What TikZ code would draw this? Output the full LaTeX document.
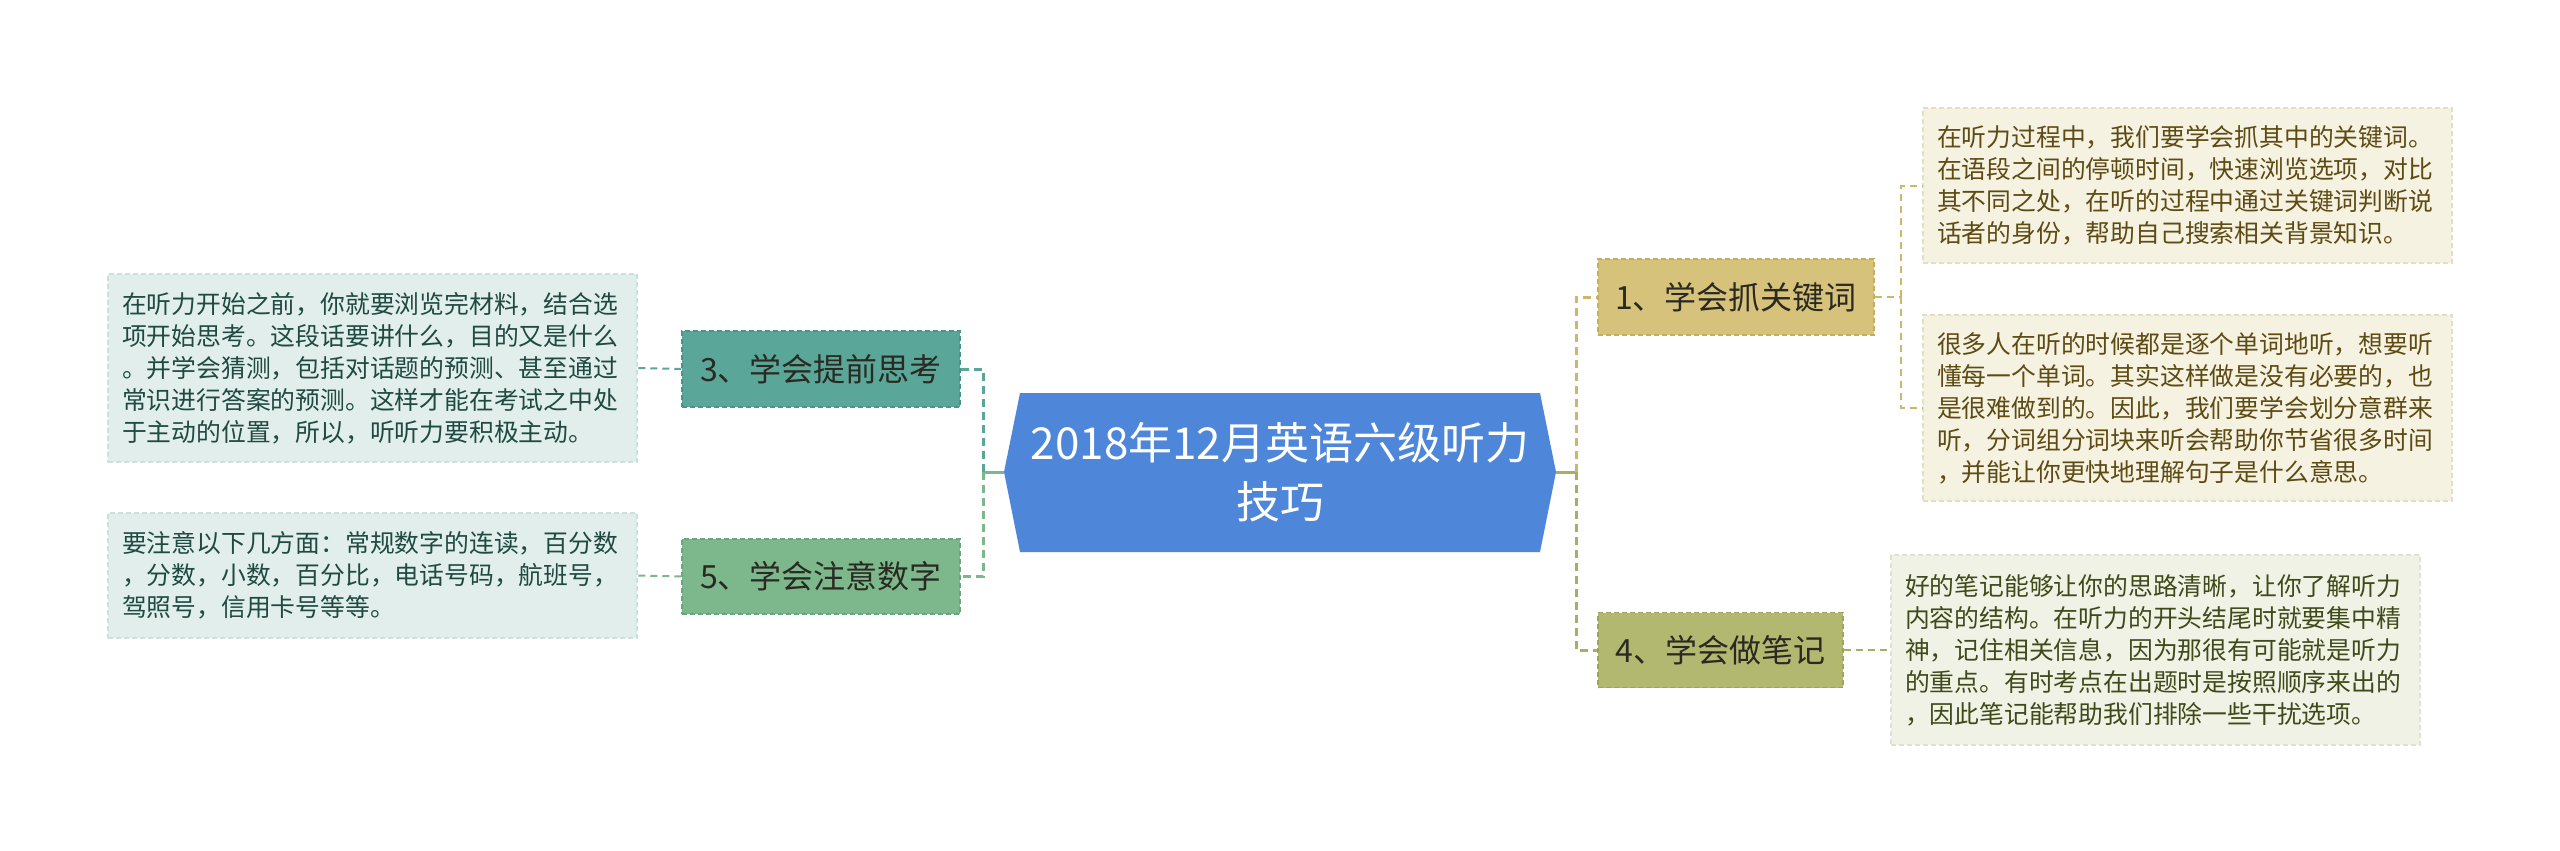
\documentclass[tikz,border=0pt]{standalone}
\usepackage{fontspec}
\setmainfont{Noto Sans CJK SC}
\definecolor{centerblue}{HTML}{4E86DA}
\definecolor{bonefill}{HTML}{D6C27A}
\definecolor{boneborder}{HTML}{C4AD5C}
\definecolor{bfourfill}{HTML}{B3B870}
\definecolor{bfourborder}{HTML}{9FA45C}
\definecolor{bthreefill}{HTML}{5AA79A}
\definecolor{bthreeborder}{HTML}{4A9488}
\definecolor{bfivefill}{HTML}{7DB88D}
\definecolor{bfiveborder}{HTML}{6AA67B}
\definecolor{tanline}{HTML}{CDB86A}
\definecolor{oliveline}{HTML}{A9AE66}
\definecolor{tealline}{HTML}{5AA79A}
\definecolor{greenline}{HTML}{7DB88D}
\definecolor{creamfill}{HTML}{F5F2E1}
\definecolor{creamborder}{HTML}{E6DFBF}
\definecolor{creamtext}{HTML}{5E4B14}
\definecolor{olivefill}{HTML}{F0F2E5}
\definecolor{oliveborder}{HTML}{DFE2CC}
\definecolor{olivetext}{HTML}{3F4A1A}
\definecolor{mintfill}{HTML}{E1EEEB}
\definecolor{mintborder}{HTML}{CCE0DB}
\definecolor{minttext}{HTML}{1F4A42}
\definecolor{branchtext}{HTML}{2A2A22}
\begin{document}
\begin{tikzpicture}[x=1pt,y=-1pt,
  branchbox/.style={draw, line width=1.5pt, dash pattern=on 5pt off 3pt, minimum height=76pt, inner sep=0pt, font=\fontsize{32}{38}\selectfont, text=branchtext},
  notebox/.style={draw, line width=1.2pt, dash pattern=on 5pt off 3pt, inner xsep=14pt, inner ysep=0pt, text width=501pt, align=left, font=\fontsize{24.8}{32}\selectfont},
  mainlink/.style={line width=3pt, dash pattern=on 8pt off 5pt},
  notelink/.style={line width=2pt, dash pattern=on 7pt off 5pt},
  stub/.style={line width=3pt}
]
\useasboundingbox[fill=white] (0,0) rectangle (2560,851);

% central topic
\fill[centerblue] (1004,472) -- (1020,393) -- (1540,393) -- (1556,472) -- (1540,552) -- (1020,552) -- cycle;
\node[text=white, font=\fontsize{44}{59}\selectfont, align=center] (center) at (1280,472) {2018年12月英语六级听力\\技巧};
\coordinate (cR) at (1556,472);
\coordinate (cL) at (1004,472);
\coordinate (jR) at (1576,472);
\coordinate (jL) at (983,472);

% branches
\node[branchbox, fill=bonefill, draw=boneborder, minimum width=276pt] (b1) at (1736,297) {1、学会抓关键词};
\node[branchbox, fill=bfourfill, draw=bfourborder, minimum width=245pt, minimum height=75pt] (b4) at (1720.5,650) {4、学会做笔记};
\node[branchbox, fill=bthreefill, draw=bthreeborder, minimum width=278pt] (b3) at (821,369) {3、学会提前思考};
\node[branchbox, fill=bfivefill, draw=bfiveborder, minimum width=278pt, minimum height=75pt] (b5) at (821,576.5) {5、学会注意数字};

% notes
\node[notebox, fill=creamfill, draw=creamborder, text=creamtext, minimum height=155pt] (n1) at (2187.5,185.5) {在听力过程中，我们要学会抓其中的关键词。\\在语段之间的停顿时间，快速浏览选项，对比\\其不同之处，在听的过程中通过关键词判断说\\话者的身份，帮助自己搜索相关背景知识。};
\node[notebox, fill=creamfill, draw=creamborder, text=creamtext, minimum height=186pt] (n2) at (2187.5,408) {很多人在听的时候都是逐个单词地听，想要听\\懂每一个单词。其实这样做是没有必要的，也\\是很难做到的。因此，我们要学会划分意群来\\听，分词组分词块来听会帮助你节省很多时间\\，并能让你更快地理解句子是什么意思。};
\node[notebox, fill=olivefill, draw=oliveborder, text=olivetext, minimum height=190pt] (n4) at (2155.5,650) {好的笔记能够让你的思路清晰，让你了解听力\\内容的结构。在听力的开头结尾时就要集中精\\神，记住相关信息，因为那很有可能就是听力\\的重点。有时考点在出题时是按照顺序来出的\\，因此笔记能帮助我们排除一些干扰选项。};
\node[notebox, fill=mintfill, draw=mintborder, text=minttext, minimum height=188pt] (n3) at (372.5,368) {在听力开始之前，你就要浏览完材料，结合选\\项开始思考。这段话要讲什么，目的又是什么\\。并学会猜测，包括对话题的预测、甚至通过\\常识进行答案的预测。这样才能在考试之中处\\于主动的位置，所以，听听力要积极主动。};
\node[notebox, fill=mintfill, draw=mintborder, text=minttext, minimum height=125pt] (n5) at (372.5,575.5) {要注意以下几方面：常规数字的连读，百分数\\，分数，小数，百分比，电话号码，航班号，\\驾照号，信用卡号等等。};

% connectors from the centre
\draw[stub, oliveline] (cR) -- (jR);
\draw[mainlink, tanline] (jR) |- (b1.west);
\draw[mainlink, oliveline] (jR) |- (b4.west);
\draw[stub, greenline] (cL) -- (jL);
\draw[mainlink, tealline] (jL) |- (b3.east);
\draw[mainlink, greenline] (jL) |- (b5.east);

% connectors to notes
\coordinate (j1) at (1901,297);
\draw[notelink, tanline] (b1.east) -- (j1);
\draw[notelink, tanline] (j1) |- (n1.west);
\draw[notelink, tanline] (j1) |- (n2.west);
\draw[notelink, oliveline] (b4.east) -- (n4.west);
\draw[notelink, tealline] (b3.west) -- (n3.east);
\draw[notelink, greenline] (b5.west) -- (n5.east);
\end{tikzpicture}
\end{document}
